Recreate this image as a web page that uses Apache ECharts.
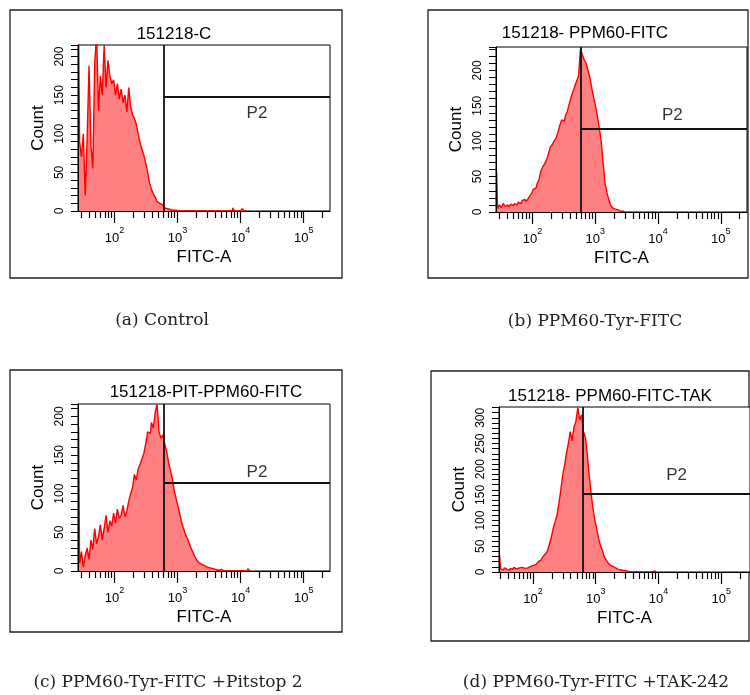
<!DOCTYPE html>
<html><head><meta charset="utf-8">
<script src="https://cdn.jsdelivr.net/npm/echarts@6/dist/echarts.min.js"></script>
<style>html,body{margin:0;padding:0;background:#fff}#c{width:750px;height:695px}</style>
</head><body><div id="c"></div>
<script>
// ---- data (x = log10 of FITC-A channel, y = count) ----
const binWidth = 0.03;
const binStartA = 1.43, binStartB = 1.43, binStartC = 1.43, binStartD = 1.47;
const countsA = [230,90,70,100,20,95,188,85,55,190,
  230,130,175,150,215,160,195,175,165,170,
  150,165,145,158,140,150,128,160,135,125,
  120,112,100,88,80,72,62,50,36,28,
  22,18,12,10,8,6,4,3,2,2,
  1,1,0,0,0,0,0,0,0,0,
  0,0,0,0,0,0,0,0,0,0,
  0,0,0,0,0,0,0,0,0,0,
  0,0,4,0,0,0,0,3,0];
const countsB = [57,5,10,6,12,8,10,7,11,9,
  12,10,14,12,16,18,15,18,22,26,
  32,34,40,46,58,64,68,74,82,92,
  95,100,104,112,122,130,128,136,142,152,
  162,170,178,185,192,230,222,215,210,200,
  190,175,162,150,135,118,100,70,42,28,
  18,10,6,4,3,2,1,1,0];
const countsC = [186,10,25,5,20,30,15,40,28,55,
  35,45,60,40,55,72,50,65,58,75,
  62,80,68,72,85,70,78,90,100,108,
  125,118,132,138,145,152,165,180,178,192,
  185,205,216,180,172,176,165,155,141,130,
  120,105,94,84,74,62,55,47,42,36,
  29,24,18,14,11,9,7,6,5,4,
  3,3,2,2,1,2,1,0,0,0,
  0,0,0,0,0,0,0,0,0,0,3,0];
const countsD = [33,6,4,8,5,3,7,5,9,6,
  8,5,9,7,10,8,11,9,13,15,
  18,20,23,27,32,36,42,55,68,86,
  98,111,135,160,189,208,232,250,273,255,
  282,293,320,296,306,273,262,230,190,155,
  125,102,85,66,52,43,30,24,18,14,
  11,8,6,5,4,3,3,2,1,0,
  0,0,0,0,0,0,0,0,0,0,
  0,0,2,0];
const panelTitles = ['151218-C', '151218- PPM60-FITC', '151218-PIT-PPM60-FITC', '151218- PPM60-FITC-TAK'];
const captions = ['(a) Control', '(b) PPM60-Tyr-FITC', '(c) PPM60-Tyr-FITC +Pitstop 2', '(d) PPM60-Tyr-FITC +TAK-242'];
const gateX = [2.78, 2.77, 2.78, 2.80];
const gateY = [148, 118, 114, 152];
const p2X = [4.26, 4.23, 4.26, 4.29];
const p2Y = [127, 137, 127, 189];
const yMax = [215, 233, 216, 321];
const xMin = [1.42, 1.42, 1.42, 1.46];
const xSpan = 3.998;
const majorTicks = [2, 3, 4, 5];
const yLabelStep = 50;
const yTickStep = 10;

// ---- layout ----
const plots = [
  {left: 78, top: 45, width: 252, height: 166},
  {left: 496, top: 47, width: 251, height: 165},
  {left: 78, top: 404, width: 252, height: 167},
  {left: 499, top: 407, width: 251, height: 165}
];
const boxes = [[10,10,332,268],[428,10,320,268],[10,370,332,262],[431,371,318,270]];
const titlePos = [[174,34],[585,33],[206,392],[610,396]];
const captionPos = [[162,321],[595,322],[168,683],[596,683]];

const SANS = 'Liberation Sans';
const counts = [countsA, countsB, countsC, countsD];
const starts = [binStartA, binStartB, binStartC, binStartD];

const grids = [], xAxes = [], yAxes = [], series = [];
for (let p = 0; p < 4; p++) {
  const lo = xMin[p], hi = xMin[p] + xSpan;
  const minor = [];
  for (let n = 1; n <= 5; n++) for (let k = 2; k <= 9; k++) {
    const v = Math.log10(k) + n;
    if (v >= lo && v <= hi) minor.push(v);
  }
  grids.push(Object.assign({show: true, borderColor: '#000', borderWidth: 1, backgroundColor: '#fff', outerBoundsMode: 'none'}, plots[p]));
  grids.push(Object.assign({show: false, outerBoundsMode: 'none'}, plots[p]));
  xAxes.push({gridIndex: 2*p, type: 'value', min: lo, max: hi, z: 3,
    axisLine: {show: true, lineStyle: {color: '#000', width: 1}},
    axisTick: {show: true, customValues: minor, length: 7, lineStyle: {color: '#000', width: 1.2}},
    axisLabel: {show: false}, splitLine: {show: false},
    name: 'FITC-A', nameLocation: 'middle', nameGap: 38,
    nameTextStyle: {fontFamily: SANS, fontSize: 17, color: '#000'}});
  yAxes.push({gridIndex: 2*p, type: 'value', min: 0, max: yMax[p], interval: yTickStep, z: 3,
    axisLine: {show: true, lineStyle: {color: '#000', width: 1}},
    axisTick: {show: true, length: 7, lineStyle: {color: '#000', width: 1}},
    axisLabel: {show: true, rotate: 90, margin: 12, fontFamily: SANS, fontSize: 12, color: '#000',
      formatter: v => (v % yLabelStep === 0 ? String(v) : '')},
    splitLine: {show: false},
    name: 'Count', nameLocation: 'middle', nameGap: 31,
    nameTextStyle: {fontFamily: SANS, fontSize: 17, color: '#000'}});
  xAxes.push({gridIndex: 2*p+1, type: 'value', min: lo, max: hi,
    axisLine: {show: false},
    axisTick: {show: true, customValues: majorTicks, length: 12, lineStyle: {color: '#000', width: 1.2}},
    axisLabel: {show: true, customValues: majorTicks, margin: 15, fontSize: 13, fontFamily: SANS, color: '#000',
      formatter: v => '{b|10}{s|' + Math.round(v) + '}',
      rich: {
        b: {fontFamily: SANS, fontSize: 13, color: '#000', lineHeight: 19, verticalAlign: 'bottom'},
        s: {fontFamily: SANS, fontSize: 9, color: '#000', lineHeight: 19, verticalAlign: 'top'}
      }},
    splitLine: {show: false}});
  yAxes.push({gridIndex: 2*p+1, type: 'value', min: 0, max: yMax[p], show: false});

  series.push({
    type: 'line', xAxisIndex: 2*p, yAxisIndex: 2*p, step: 'middle', symbol: 'none', silent: true,
    data: counts[p].map((v, i) => [starts[p] + i * binWidth, v]),
    lineStyle: {color: '#ff0000', width: 1.4},
    areaStyle: {color: '#ff8080', opacity: 1},
    clip: true, z: 2,
    markLine: {
      silent: true, symbol: ['none', 'none'], animation: false,
      label: {show: false},
      lineStyle: {color: '#111', width: 1.8, type: 'solid'},
      emphasis: {disabled: true},
      data: [
        [{coord: [gateX[p], 0]}, {coord: [gateX[p], yMax[p]]}],
        [{coord: [gateX[p], gateY[p]]}, {coord: [hi, gateY[p]]}]
      ]
    }
  });
  series.push({
    type: 'scatter', xAxisIndex: 2*p, yAxisIndex: 2*p, symbolSize: 0, silent: true,
    data: [[p2X[p], p2Y[p]]],
    label: {show: true, position: 'inside', formatter: 'P2', fontFamily: SANS, fontSize: 17, color: '#000'}
  });
}

const graphic = [];
for (let p = 0; p < 4; p++) {
  const b = boxes[p];
  graphic.push({type: 'rect', silent: true, z: -1,
    shape: {x: b[0], y: b[1], width: b[2], height: b[3]},
    style: {fill: 'none', stroke: '#222', lineWidth: 1.3}});
  graphic.push({type: 'text', silent: true, x: titlePos[p][0], y: titlePos[p][1],
    style: {text: panelTitles[p], font: '17px "Liberation Sans"', fill: '#000', textAlign: 'center', textVerticalAlign: 'middle'}});
  graphic.push({type: 'text', silent: true, x: captionPos[p][0], y: captionPos[p][1],
    style: {text: captions[p], font: '17px "DejaVu Serif"', fill: '#222', textAlign: 'center', textVerticalAlign: 'middle'}});
}

const chart = echarts.init(document.getElementById('c'), null, {renderer: 'canvas'});
chart.setOption({
  animation: false,
  backgroundColor: '#fff',
  grid: grids, xAxis: xAxes, yAxis: yAxes, series: series, graphic: graphic
});
</script></body></html>
